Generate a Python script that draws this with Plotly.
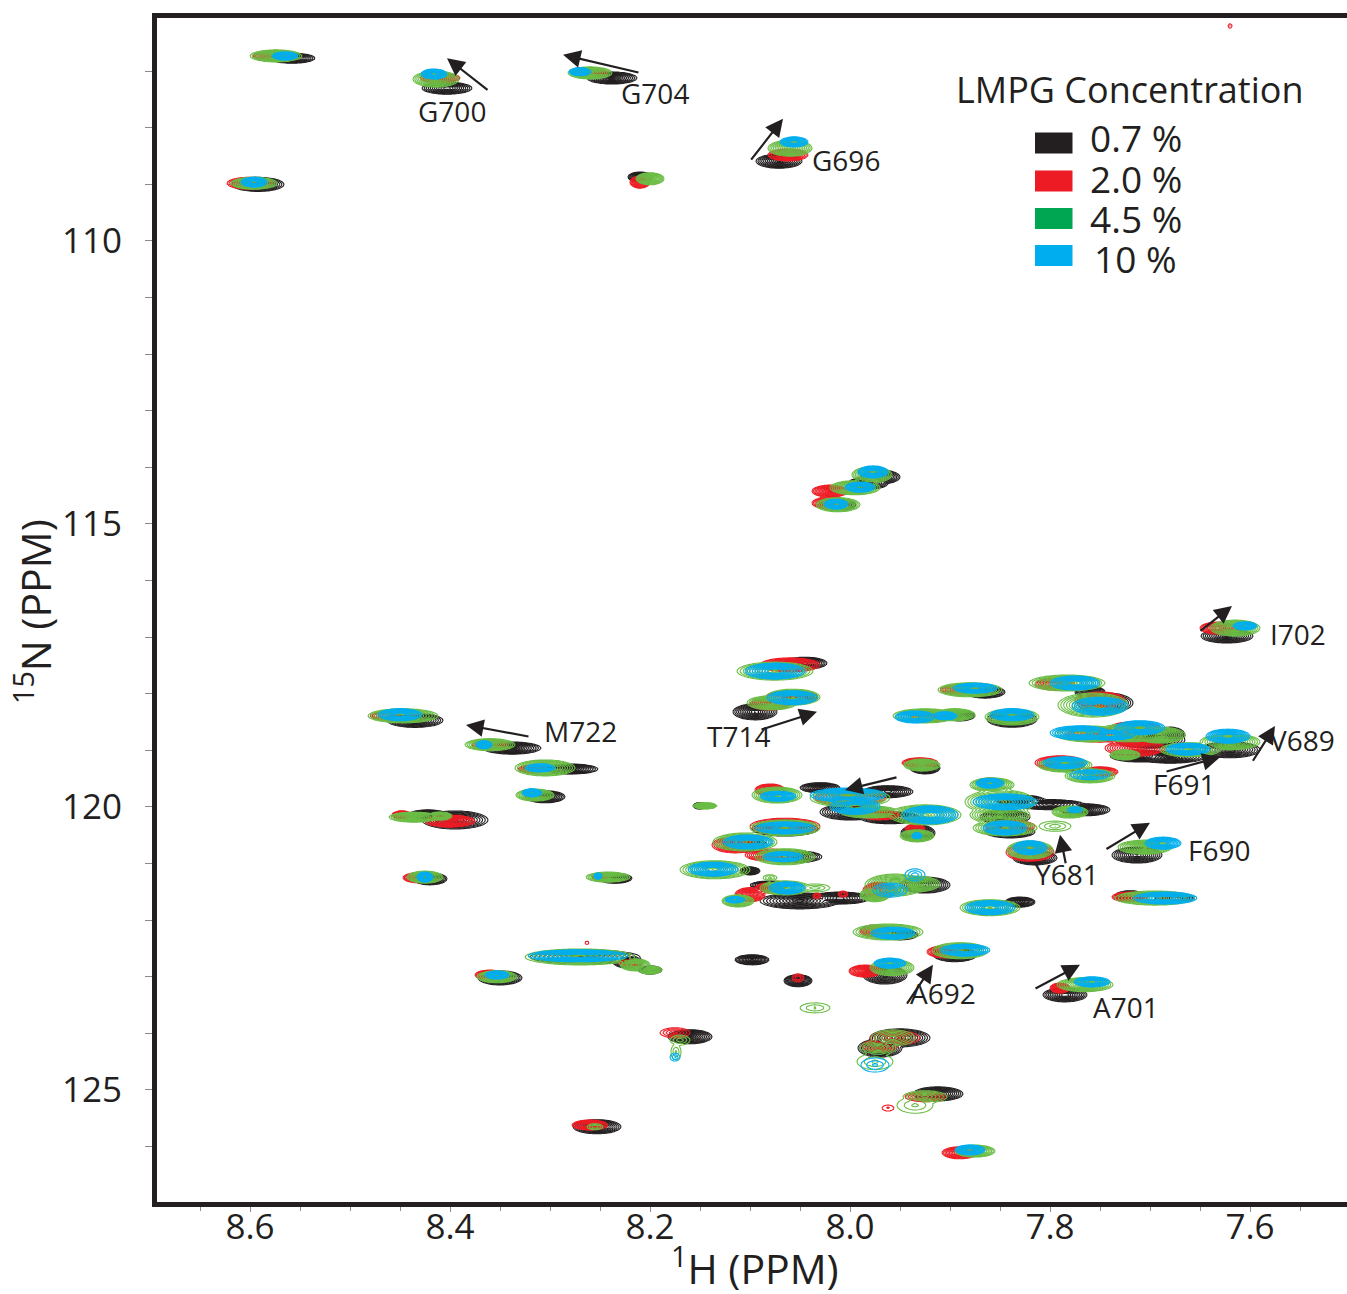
import numpy as np
import plotly.graph_objects as go

# Peak tables: (1H ppm, 15N ppm, half-width 1H, half-width 15N[, relative height])
black_peaks = [
 (8.558,106.77,.023,.088),(8.403,107.30,.025,.106),(8.238,107.12,.025,.106),(8.071,108.59,.023,.124),
 (8.592,109.00,.026,.124),(8.210,108.87,.012,.088),(7.970,114.17,.020,.124),(7.982,114.28,.020,.106),
 (8.012,114.66,.018,.106),(7.623,116.98,.026,.124),(8.045,117.46,.022,.106),(8.095,118.32,.022,.141),
 (8.050,118.06,.018,.106),(7.890,118.39,.015,.088),(7.838,118.45,.025,.141),(7.865,117.97,.020,.106),
 (7.760,117.97,.015,.106),(7.745,118.16,.028,.177),(7.700,118.82,.035,.141),(7.680,118.73,.015,.141),
 (7.710,119.10,.030,.106),(7.680,119.12,.035,.106),(7.620,118.99,.030,.141),(7.785,119.26,.020,.106),
 (7.830,119.88,.025,.088),(7.765,120.05,.025,.106),(7.800,119.96,.035,.088),(7.840,120.44,.025,.106),
 (7.815,120.90,.022,.124),(7.713,120.85,.025,.141),(7.720,121.57,.015,.088),(7.675,121.61,.020,.070),
 (7.830,121.68,.015,.088),(8.030,119.66,.020,.088),(7.962,119.73,.025,.106),(8.000,120.09,.030,.141),
 (7.960,120.19,.030,.106),(7.932,120.46,.017,.141),(7.925,119.31,.015,.106),(8.065,120.39,.033,.124),
 (8.105,120.67,.022,.124),(8.055,120.88,.027,.106),(8.100,121.13,.010,.070),(8.050,121.66,.040,.141),
 (8.010,121.61,.030,.106),(8.080,121.38,.020,.070),(7.925,121.38,.025,.141),(7.950,122.26,.018,.088),
 (7.895,122.61,.022,.124),(7.965,122.97,.022,.159),(8.098,122.70,.017,.088),(8.052,123.07,.014,.106),
 (8.160,124.06,.022,.124),(7.950,124.08,.030,.159),(7.970,124.26,.022,.159),(7.912,125.07,.025,.124),
 (8.253,125.65,.024,.124),(8.435,118.47,.028,.124),(8.338,118.96,.029,.106),(8.280,119.33,.028,.088),
 (8.305,119.82,.020,.106),(8.395,120.23,.033,.159),(8.422,120.14,.020,.088),(8.420,121.27,.017,.106),
 (8.235,121.26,.017,.088),(8.150,119.98,.007,.053),(8.265,122.65,.055,.124),(8.222,122.74,.015,.106),
 (8.200,122.88,.012,.070),(8.350,123.02,.022,.124),(7.785,123.32,.022,.124),(7.845,120.18,.025,.124),
]
red_peaks = [
 (8.575,106.73,.022,.088),(8.410,107.12,.020,.088),(8.260,107.03,.018,.070),(8.062,108.48,.020,.106),
 (8.600,108.98,.023,.106),(8.210,108.96,.010,.106),(8.020,114.42,.018,.106),(8.020,114.63,.018,.106),
 (7.632,116.84,.018,.106),(8.060,117.49,.030,.124),(8.060,118.07,.025,.124),(8.080,118.18,.020,.106),
 (7.920,118.41,.020,.088),(7.890,117.93,.020,.088),(7.795,117.83,.020,.106),(7.750,118.11,.025,.141),
 (7.750,118.73,.035,.124),(7.715,118.60,.025,.106),(7.715,118.96,.030,.141),(7.790,119.22,.025,.124),
 (7.750,119.38,.018,.088),(7.860,119.56,.014,.070),(7.840,120.34,.025,.106),(7.820,120.80,.024,.159),
 (7.720,121.59,.018,.088),(8.080,119.70,.015,.106),(8.000,119.84,.035,.141),(7.970,120.14,.020,.088),
 (7.935,120.39,.010,.088),(7.930,119.22,.018,.088),(8.065,120.34,.035,.141),(8.115,120.67,.023,.141),
 (8.080,120.85,.025,.106),(8.080,121.43,.015,.088),(8.100,121.55,.015,.124),(8.033,121.57,.004,.053,.3),
 (8.007,121.54,.005,.053,.3),(7.970,121.47,.017,.141),(7.975,122.19,.015,.106),(7.905,122.56,.018,.106),
 (7.985,122.90,.016,.106),(8.052,123.02,.006,.070,.3),(8.175,123.99,.015,.088,.4),(7.955,124.08,.025,.124,.5),
 (7.970,124.22,.018,.106,.5),(7.925,125.12,.020,.088,.5),(7.962,125.32,.006,.053,.12),(7.890,126.11,.018,.106),
 (8.260,125.62,.018,.088),(8.455,118.39,.025,.088),(8.360,118.90,.018,.088),(8.317,119.33,.015,.070),
 (8.400,120.25,.025,.106),(8.448,120.14,.010,.070),(8.432,121.25,.015,.088),(8.250,121.24,.008,.053),
 (8.220,122.76,.012,.053),(8.360,122.97,.015,.088),(7.790,123.20,.010,.088),
 (7.620,106.20,.002,.040,.1),(8.425,115.42,.001,.020,.1),(8.263,122.40,.002,.030,.1),
]
green_peaks = [
 (8.574,106.73,.026,.106),(8.414,107.14,.023,.141),(8.260,107.03,.022,.106),(8.060,108.36,.022,.141),
 (8.596,108.98,.023,.106),(8.200,108.90,.014,.106),(7.978,114.13,.020,.141),(7.995,114.36,.025,.124),
 (8.012,114.66,.022,.124),(7.615,116.84,.025,.141),(8.075,117.60,.038,.159),(8.078,118.16,.025,.124),
 (8.057,118.06,.027,.141),(7.925,118.39,.032,.124),(7.895,118.37,.020,.106),(7.838,118.41,.027,.141),
 (7.880,117.93,.032,.124),(7.783,117.81,.038,.141),(7.757,118.20,.035,.212),(7.760,118.71,.035,.141),
 (7.720,118.69,.035,.159),(7.690,118.73,.025,.141),(7.725,119.08,.015,.088),(7.660,118.99,.030,.124),
 (7.620,118.85,.030,.141),(7.785,119.26,.027,.124),(7.760,119.45,.025,.124),(7.858,119.61,.022,.124),
 (7.850,119.91,.035,.212),(7.780,120.09,.018,.106),(7.850,120.32,.020,.141),(7.845,120.37,.032,.141),
 (7.850,120.14,.030,.159),(7.795,120.34,.016,.090,.25),(7.820,120.76,.023,.159),(7.705,120.71,.027,.124),
 (7.695,121.61,.040,.124),(7.860,121.78,.030,.141),(8.073,119.79,.025,.141),(8.000,119.84,.040,.159),
 (7.925,120.14,.036,.177),(7.980,120.09,.030,.106),(7.933,120.51,.017,.106),(7.928,119.26,.018,.106),
 (8.065,120.37,.035,.141),(8.105,120.62,.032,.159),(8.065,120.88,.030,.141),(8.135,121.11,.035,.159),
 (8.065,121.43,.025,.124),(8.035,121.43,.015,.070,.25),(8.080,121.25,.007,.053,.25),(8.112,121.66,.016,.106),
 (7.955,121.38,.030,.194),(7.975,121.55,.015,.124),(7.935,121.36,.025,.141),(7.962,122.21,.035,.141),
 (7.890,122.54,.028,.141),(7.958,122.84,.022,.141),(8.035,123.55,.015,.088,.2),(8.170,124.12,.010,.088,.25),
 (8.174,124.33,.005,.141,.2),(7.957,124.08,.022,.141,.5),(7.972,124.26,.018,.124,.5),(7.975,124.50,.018,.141,.2),
 (7.925,125.12,.022,.106,.5),(7.935,125.27,.018,.141,.2),(7.875,126.08,.020,.106),(8.255,125.65,.008,.053,.3),
 (8.447,118.39,.035,.124),(8.360,118.90,.025,.106),(8.305,119.31,.030,.141),(8.315,119.79,.019,.106),
 (8.436,120.18,.025,.088),(8.410,120.16,.012,.070),(8.425,121.24,.018,.106),(8.242,121.24,.022,.088),
 (8.145,119.98,.012,.053),(8.270,122.65,.055,.141),(8.215,122.79,.015,.106),(8.200,122.88,.012,.070),
 (8.353,123.00,.020,.106),(7.765,123.14,.028,.124),
]
blue_peaks = [
 (8.565,106.73,.013,.070),(8.416,107.05,.013,.088),(8.270,107.01,.011,.070),(8.056,108.25,.014,.088),
 (8.596,108.96,.013,.088),(7.977,114.08,.015,.106),(7.990,114.35,.015,.088),(8.014,114.65,.012,.088),
 (7.605,116.80,.012,.070),(8.075,117.60,.030,.141),(8.058,118.07,.025,.124),(7.935,118.41,.020,.106),
 (7.905,118.39,.012,.070),(7.838,118.37,.022,.106),(7.875,117.90,.022,.088),(7.775,117.81,.025,.124),
 (7.750,118.22,.028,.159),(7.770,118.69,.030,.124),(7.740,118.73,.025,.088),(7.710,118.60,.025,.124),
 (7.662,118.98,.022,.106),(7.622,118.75,.022,.124),(7.785,119.22,.022,.106),(7.760,119.43,.020,.088,.5),
 (7.860,119.58,.014,.088),(7.845,119.91,.032,.141),(7.775,120.05,.008,.053,.4),(7.845,120.37,.022,.124),
 (7.820,120.72,.017,.124),(7.687,120.64,.018,.106),(7.685,121.61,.032,.106),(7.860,121.78,.025,.124),
 (8.072,119.81,.018,.088),(8.002,119.79,.038,.124),(7.995,119.99,.025,.141),(7.920,120.14,.028,.159),
 (7.933,120.51,.005,.053),(8.065,120.37,.030,.106),(8.102,120.62,.025,.124),(8.067,120.88,.020,.088),
 (8.137,121.10,.025,.124),(8.063,121.43,.018,.106),(8.115,121.64,.010,.053),(7.960,121.47,.017,.124,.45),
 (7.935,121.20,.010,.106,.25),(7.957,122.23,.022,.106),(7.885,122.53,.025,.106),(7.960,122.76,.016,.088),
 (8.175,124.42,.005,.070,.2),(7.975,124.56,.014,.124,.2),(7.880,126.06,.015,.088),(8.450,118.37,.022,.106),
 (8.366,118.90,.008,.070),(8.310,119.31,.015,.070),(8.318,119.75,.010,.070),(8.425,121.24,.008,.088),
 (8.252,121.22,.004,.053),(8.272,122.63,.050,.106),(8.353,122.97,.012,.070),(7.758,123.09,.018,.088),
]

series_names = ["0.7 %", "2.0 %", "4.5 %", "10 %"]
line_colors = ["#231f20", "#ed1c24", "#6abd45", "#00aeef"]
swatch_colors = ["#231f20", "#ed1c24", "#00a651", "#00aeef"]
ring_ends = [0.92, 0.92, 0.92, 0.72]

x_ticks = [8.6, 8.4, 8.2, 8.0, 7.8, 7.6]
y_ticks = [110, 115, 120, 125]

# (label, 1H, 15N)
residue_labels = [("G700",8.398,107.70),("G704",8.195,107.38),("G696",8.004,108.57),("I702",7.552,116.94),
 ("M722",8.270,118.66),("T714",8.112,118.74),("V689",7.548,118.82),("F691",7.666,119.59),
 ("F690",7.631,120.76),("Y681",7.783,121.18),("A692",7.907,123.28),("A701",7.724,123.53)]
# (tail 1H, tail 15N, head 1H, head 15N)
shift_arrows = [(8.361,107.35,8.403,106.77),(8.21,107.03,8.287,106.71),(8.10,108.59,8.067,107.84),
 (7.651,116.91,7.618,116.45),(8.32,118.76,8.384,118.55),(8.09,118.64,8.033,118.32),
 (7.952,119.47,8.005,119.70),(7.598,119.21,7.575,118.57),(7.685,119.38,7.63,119.12),
 (7.745,120.76,7.70,120.28),(7.784,121.02,7.79,120.49),(7.816,123.22,7.77,122.79),(7.944,123.50,7.917,122.79)]

W, H = 1347, 1294
ML, MR, MT, MB = 157, 0, 18, 92
INK = "#231f20"
FONT = "Open Sans"

gx = np.linspace(7.50, 8.70, 640, dtype=np.float32)
gy = np.linspace(106.0, 127.02, 640, dtype=np.float32)
XX, YY = np.meshgrid(gx, gy)

def field(peaks):
    z = np.full(XX.shape, -0.2, dtype=np.float32)
    for p in peaks:
        h = p[4] if len(p) > 4 else 1.0
        r = np.sqrt(((XX - p[0]) / p[2]) ** 2 + ((YY - p[1]) / p[3]) ** 2)
        z = np.maximum(z, np.maximum(h * (1 - r), -0.2))
    return z.astype(np.float32)

fig = go.Figure()
for name, peaks, col, end in zip(series_names, [black_peaks, red_peaks, green_peaks, blue_peaks], line_colors, ring_ends):
    fig.add_trace(go.Contour(x=gx, y=gy, z=field(peaks), name=name, showscale=False, hoverinfo="skip",
        colorscale=[[0, col], [1, col]], line=dict(width=1.1, color=col, smoothing=0),
        contours=dict(coloring="none", start=0, end=end, size=0.08, showlabels=False)))

def px(xp): return (xp - ML) / (W - ML - MR)
def py(yp): return 1 - (yp - MT) / (H - MT - MB)

def page_text(xx, yy, text, size, **kw):
    return dict(xref="paper", yref="paper", x=px(xx), y=py(yy), text=text, showarrow=False,
                xanchor="center", yanchor="middle", font=dict(family=FONT, size=size, color=INK), **kw)

ann = []
for t, x, y in residue_labels:
    ann.append(dict(x=x, y=y, text=t, showarrow=False, xanchor="center", yanchor="middle",
                    font=dict(family=FONT, size=28, color=INK)))
for tx, ty, hx, hy in shift_arrows:
    ann.append(dict(x=hx, y=hy, ax=tx, ay=ty, xref="x", yref="y", axref="x", ayref="y", text="",
                    showarrow=True, arrowhead=2, arrowsize=1.6, arrowwidth=2.2, arrowcolor=INK))
ann.append(page_text(1130, 89, "LMPG Concentration", 36))
for n, yy, xx in zip(series_names, [138, 179, 219, 258], [1136, 1136, 1136, 1135]):
    ann.append(page_text(xx, yy, n, 37))
shapes = []
for c, yy in zip(swatch_colors, [143, 181, 218.5, 255.5]):
    shapes.append(dict(type="rect", xref="paper", yref="paper", x0=px(1035), x1=px(1072.5), y0=py(yy - 10.5), y1=py(yy + 10.5),
                       fillcolor=c, line=dict(width=0)))
ann.append(page_text(755, 1266, "<sup>1</sup>H (PPM)", 41))
ann.append(page_text(33, 612, "<sup>15</sup>N (PPM)", 41, textangle=-90))

fig.update_layout(
    width=W, height=H, margin=dict(l=ML, r=MR, t=MT, b=MB, pad=0), paper_bgcolor="white", plot_bgcolor="white",
    showlegend=False, annotations=ann, shapes=shapes, font=dict(family=FONT, color=INK),
    xaxis=dict(range=[8.693, 7.503], tickvals=x_ticks, ticktext=[f"{v:.1f}" for v in x_ticks], showgrid=False, zeroline=False,
               showline=True, linewidth=5, linecolor=INK, mirror=True, ticks="outside", ticklen=5, tickcolor="#8a8a8a", tickwidth=1,
               minor=dict(dtick=0.05, ticks="outside", ticklen=4, tickcolor="#8a8a8a", tickwidth=1, showgrid=False),
               ticklabelstandoff=-15, tickfont=dict(family=FONT, size=35, color=INK)),
    yaxis=dict(range=[126.98, 106.06], tickvals=y_ticks, ticktext=[str(v) for v in y_ticks], showgrid=False, zeroline=False,
               showline=True, linewidth=5, linecolor=INK, ticks="outside", ticklen=7, tickcolor="#8a8a8a", tickwidth=1,
               minor=dict(dtick=1, ticks="outside", ticklen=7, tickcolor="#8a8a8a", tickwidth=1, showgrid=False),
               ticklabelstandoff=16, tickfont=dict(family=FONT, size=35, color=INK)),
)
fig.write_html("out.html", config={"displayModeBar": False},
               post_script="document.body.style.margin='0';document.body.style.overflow='hidden';")
